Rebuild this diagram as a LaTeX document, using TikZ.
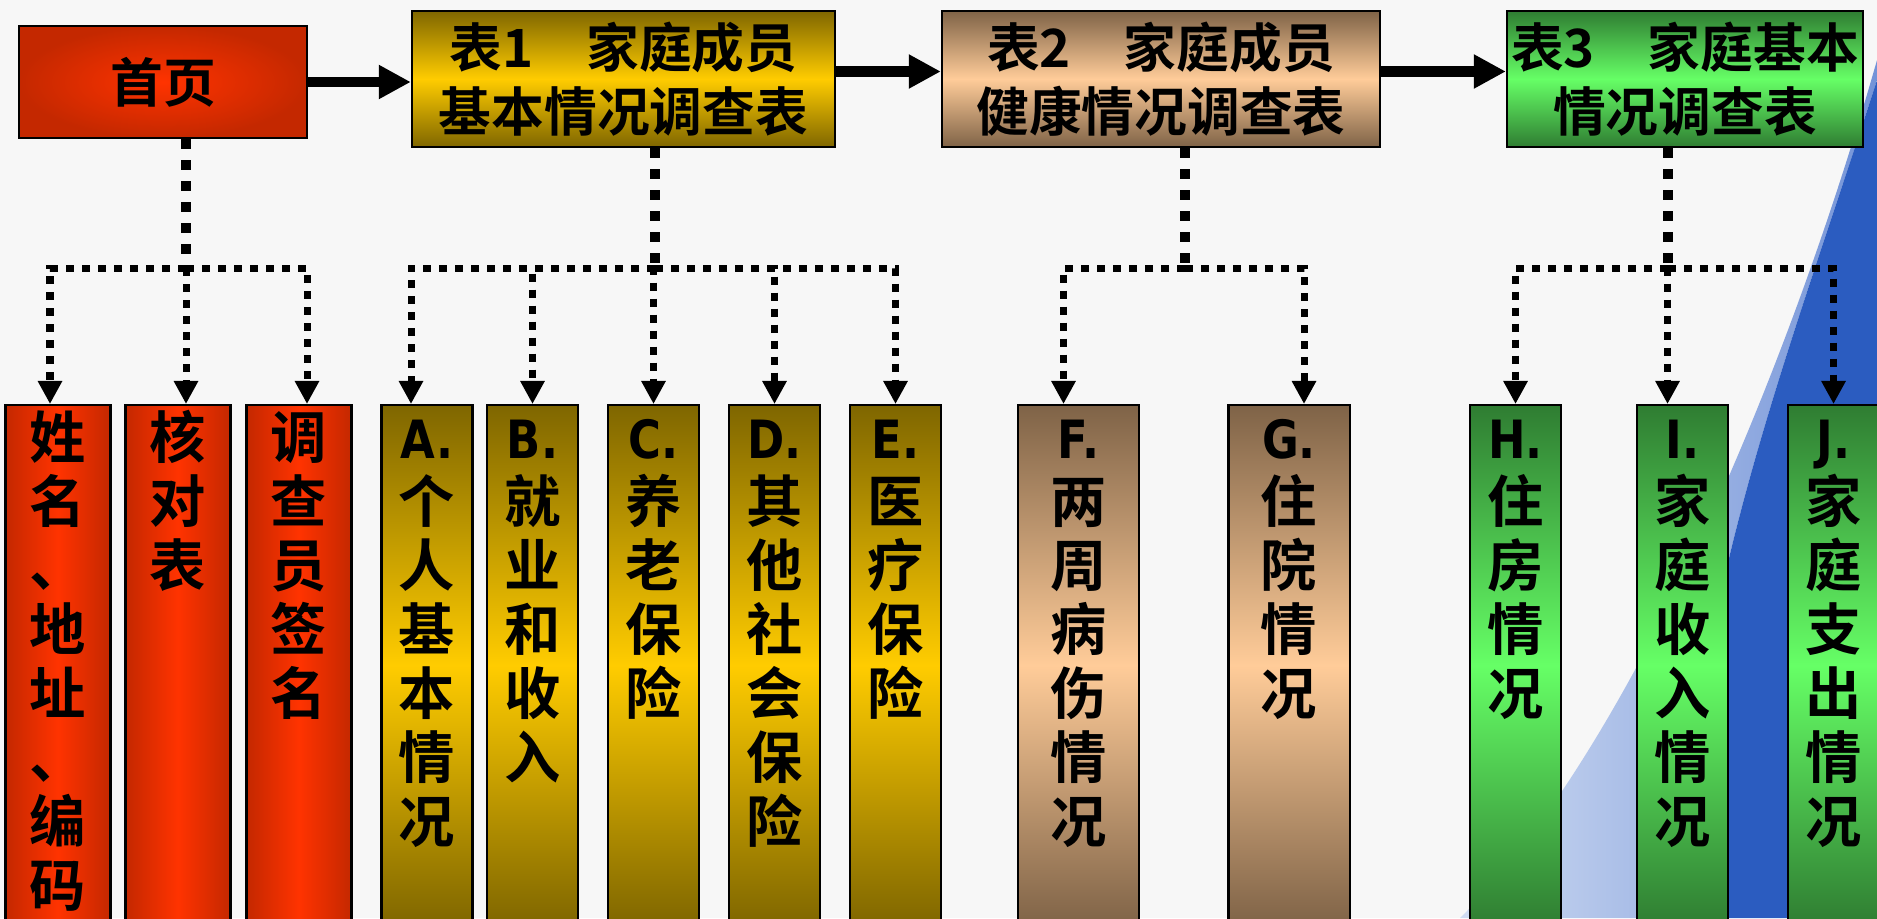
\documentclass[tikz,border=0pt]{standalone}
\usepackage{fontspec}
\newfontfamily\cjk{Noto Sans CJK SC Bold}
\newfontfamily\lat{DejaVu Sans Bold}
\usetikzlibrary{arrows.meta}
\newcommand\ltr[1]{\scalebox{0.85}[1]{\lat\fontsize{15pt}{18pt}\selectfont#1}}
\definecolor{bg}{HTML}{F7F7F7}
\definecolor{rdark}{HTML}{C42800}
\definecolor{rlight}{HTML}{FF3300}
\definecolor{ydark}{HTML}{7F6600}
\definecolor{ylight}{HTML}{FFCC00}
\definecolor{tdark}{HTML}{7F6347}
\definecolor{tlight}{HTML}{FFCC99}
\definecolor{gdark}{HTML}{2F7D32}
\definecolor{glight}{HTML}{66FF66}
\definecolor{bdark}{HTML}{2B5CC0}
\definecolor{bmid}{HTML}{7393D8}
\definecolor{blight}{HTML}{D0DCF2}
\tikzset{
  box/.style={draw=black, line width=0.6pt, inner sep=0pt, align=center,
    font=\cjk\fontsize{15pt}{18.2pt}\selectfont},
  bar/.style={box, anchor=north, minimum height=5.2cm},
  redbar/.style={bar, minimum width=1.05cm, left color=rdark, right color=rdark, middle color=rlight},
  ybar/.style={bar, minimum width=0.91cm, top color=ydark, bottom color=ydark, middle color=ylight},
  tbar/.style={bar, minimum width=1.21cm, top color=tdark, bottom color=tdark, middle color=tlight},
  gbar/.style={bar, minimum width=0.91cm, top color=gdark, bottom color=gdark, middle color=glight},
  vtext/.style={anchor=north, inner sep=0pt, align=center,
    font=\cjk\fontsize{16pt}{18.2pt}\selectfont},
  stem/.style={line width=0.1cm, dash pattern=on 0.1cm off 0.11cm},
  conn/.style={line width=0.07cm, dash pattern=on 0.08cm off 0.08cm, -{Triangle[length=0.23cm,width=0.23cm]}},
  fat/.style={line width=0.1cm, -{Triangle[length=0.32cm,width=0.32cm]}}
}
\begin{document}
\begin{tikzpicture}[x=0.01cm,y=-0.01cm]
\fill[bg] (0,0) rectangle (1877,918);
\useasboundingbox (0,0) rectangle (1877,918);
\shade[left color=blight, right color=bmid] (1877,60) .. controls (1780,400) and (1620,760) .. (1460,918) -- (1680,918) .. controls (1690,600) and (1780,380) .. (1877,80) -- cycle;
\fill[bdark] (1877,80) .. controls (1780,380) and (1690,600) .. (1680,918) -- (1877,918) -- cycle;

\node[box, minimum width=2.88cm, minimum height=1.12cm, inner color=rlight, outer color=rdark] (sy) at (163,82) {首页};
\node[box, minimum width=4.23cm, minimum height=1.36cm, top color=ydark, bottom color=ydark, middle color=ylight] (b1) at (623.5,79) {表1　家庭成员\\基本情况调查表};
\node[box, minimum width=4.38cm, minimum height=1.36cm, top color=tdark, bottom color=tdark, middle color=tlight] (b2) at (1161,79) {表2　家庭成员\\健康情况调查表};
\node[box, minimum width=3.56cm, minimum height=1.36cm, top color=gdark, bottom color=gdark, middle color=glight] (b3) at (1685,79) {表3　家庭基本\\情况调查表};

\draw[fat] (sy.east) -- (sy.east -| b1.west);
\draw[fat] ([yshift=0.075cm]b1.east) -- ([yshift=0.075cm]b2.west);
\draw[fat] ([yshift=0.075cm]b2.east) -- ([yshift=0.075cm]b3.west);

\foreach \nm/\px/\lb in {xm/58/{姓\\名\\、\\地\\址\\、\\编\\码}, hd/178/{核\\对\\表}, dc/299/{调\\查\\员\\签\\名}}
  {\node[redbar] (\nm) at (\px,404) {}; \node[vtext] (\nm-l) at (\nm.north) {\rule{0pt}{0.54cm}\lb};}
\foreach \nm/\px/\lb in {a/427/{\ltr{A.}\\个\\人\\基\\本\\情\\况}, b/532.5/{\ltr{B.}\\就\\业\\和\\收\\入}, c/653.5/{\ltr{C.}\\养\\老\\保\\险}, d/774.5/{\ltr{D.}\\其\\他\\社\\会\\保\\险}, e/895.5/{\ltr{E.}\\医\\疗\\保\\险}}
  {\node[ybar] (\nm) at (\px,404) {}; \node[vtext] (\nm-l) at (\nm.north) {\rule{0pt}{0.54cm}\lb};}
\foreach \nm/\px/\lb in {f/1078.5/{\ltr{F.}\\两\\周\\病\\伤\\情\\况}, g/1289/{\ltr{G.}\\住\\院\\情\\况}}
  {\node[tbar] (\nm) at (\px,404) {}; \node[vtext] (\nm-l) at (\nm.north) {\rule{0pt}{0.54cm}\lb};}
\foreach \nm/\px/\lb in {h/1515.5/{\ltr{H.}\\住\\房\\情\\况}, i/1682.5/{\ltr{I.}\\家\\庭\\收\\入\\情\\况}, j/1833.5/{\ltr{J.}\\家\\庭\\支\\出\\情\\况}}
  {\node[gbar] (\nm) at (\px,404) {}; \node[vtext] (\nm-l) at (\nm.north) {\rule{0pt}{0.54cm}\lb};}

\coordinate (j0) at (186,268);
\coordinate (j1) at (655,268);
\coordinate (j2) at (1185,268);
\coordinate (j3) at (1668,268);
\draw[stem] (sy.south -| j0) -- (j0);
\draw[stem] (b1.south -| j1) -- (j1);
\draw[stem] (b2.south -| j2) -- (j2);
\draw[stem] (b3.south -| j3) -- (j3);
\foreach \nm/\s in {xm/-8, hd/8, dc/8} \draw[conn] (j0) -| ([xshift=\s*0.01cm]\nm.north);
\foreach \nm/\s in {a/-16, b/0, c/0, d/0, e/0} \draw[conn] (j1) -| ([xshift=\s*0.01cm]\nm.north);
\foreach \nm/\s in {f/-15, g/15} \draw[conn] (j2) -| ([xshift=\s*0.01cm]\nm.north);
\foreach \nm/\s in {h/0, i/-15, j/0} \draw[conn] (j3) -| ([xshift=\s*0.01cm]\nm.north);
\end{tikzpicture}
\end{document}
